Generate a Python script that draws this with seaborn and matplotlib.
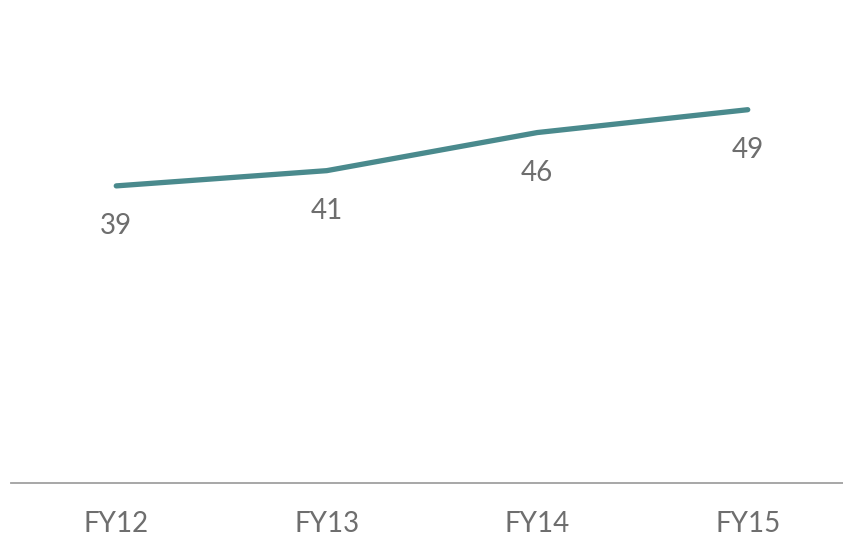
import matplotlib
matplotlib.use("Agg")
import matplotlib.pyplot as plt
import seaborn as sns
import pandas as pd

# Yearly values for the trend line
years = ["FY12", "FY13", "FY14", "FY15"]
values = [39, 41, 46, 49]

sns.set_theme(style="white")
plt.rcParams["font.family"] = ["Lato", "DejaVu Sans"]

line_color = "#4A8A8D"
text_color = "#6E6E6E"

df = pd.DataFrame({"year": years, "value": values})

fig = plt.figure(figsize=(8.43, 5.38), dpi=100)
ax = fig.add_axes([11 / 843, 55 / 538, 842 / 843, 483 / 538])

sns.lineplot(data=df, x="year", y="value", ax=ax, color=line_color,
             linewidth=3.8, solid_capstyle="round", sort=False)

ax.set_xlim(-0.5, 3.5)
ax.set_ylim(0, 63.4)

# Value labels below each point
for i, v in enumerate(values):
    ax.annotate(f"{v}", (i, v), xytext=(0, -29), textcoords="offset points",
                ha="center", va="center", fontsize=20, color=text_color)

for side in ["top", "right", "left"]:
    ax.spines[side].set_visible(False)
ax.spines["bottom"].set_color("#A0A0A0")
ax.spines["bottom"].set_linewidth(1.3)

ax.set_yticks([])
ax.set_xlabel("")
ax.set_ylabel("")
ax.tick_params(axis="x", length=0, pad=20, labelsize=20, labelcolor=text_color)

fig.savefig("out.png", dpi=100)
